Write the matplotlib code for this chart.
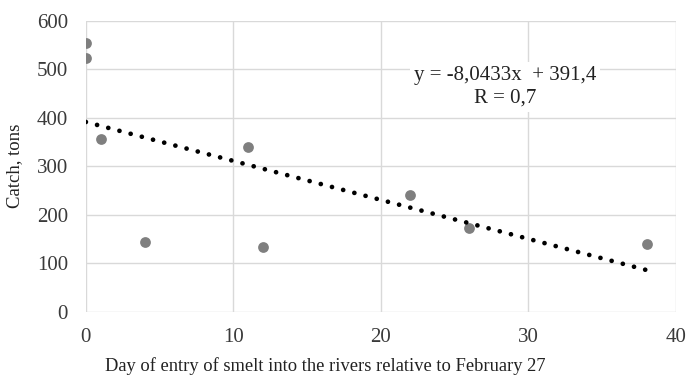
import matplotlib
matplotlib.use("Agg")
import matplotlib.pyplot as plt
import numpy as np

days = [0, 0, 1, 4, 11, 12, 22, 26, 38]
catch = [555, 523, 357, 143, 339, 134, 241, 172, 140]
slope = -8.0433
intercept = 391.4
r_value = "0,7"
x_ticks = [0, 10, 20, 30, 40]
y_ticks = [0, 100, 200, 300, 400, 500, 600]

plt.rcParams['font.family'] = ['Liberation Serif', 'DejaVu Serif']

fig = plt.figure(figsize=(6.87, 3.80), dpi=100)
ax = fig.add_axes([0.125, 0.18, 0.859, 0.765])

ax.scatter(days, catch, s=60, color='#7f7f7f', zorder=3, linewidths=0)

xt = np.array([min(days), max(days)])
ax.plot(xt, slope * xt + intercept, color='black', lw=3.4,
        linestyle=(0, (0.01, 2.44)), dash_capstyle='round', zorder=4)

ax.set_xlim(0, 40)
ax.set_ylim(0, 600)
ax.set_xticks(x_ticks)
ax.set_yticks(y_ticks)
ax.grid(True, color='#d9d9d9', lw=1.0)
ax.set_axisbelow(True)
for s in ax.spines.values():
    s.set_visible(False)
ax.tick_params(length=0, labelsize=15, colors='#3a3a3a')
ax.tick_params(axis='y', pad=13)
ax.tick_params(axis='x', pad=12)

ax.set_xlabel('Day of entry of smelt into the rivers relative to February 27',
              fontsize=13.3, color='#222222')
ax.xaxis.set_label_coords(0.405, -0.155)
ax.set_ylabel('Catch, tons', fontsize=13.5, color='#222222')
ax.yaxis.set_label_coords(-0.106, 0.5)

eq = f"y = {slope:.4f}x  + {intercept:.1f}".replace('.', ',')
ax.text(28.4, 487, eq, ha='center', va='center', fontsize=15, color='#222222',
        bbox=dict(facecolor='white', edgecolor='none', pad=3), zorder=5)
ax.text(28.4, 441, f"R = {r_value}", ha='center', va='center', fontsize=15,
        color='#222222',
        bbox=dict(facecolor='white', edgecolor='none', pad=3), zorder=5)

fig.savefig('out.png', dpi=100)
